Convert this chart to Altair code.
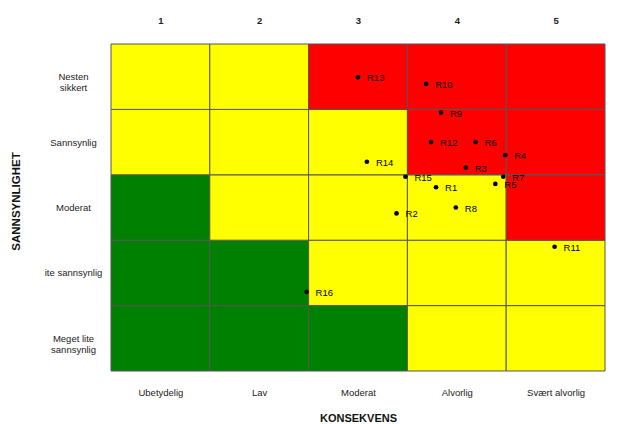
import json
import altair as alt
import pandas as pd

FONT = "Liberation Sans"

consequence_numbers = ["1", "2", "3", "4", "5"]
consequence_labels = ["Ubetydelig", "Lav", "Moderat", "Alvorlig", "Svært alvorlig"]
likelihood_labels = ["Meget lite\nsannsynlig", "ite sannsynlig", "Moderat", "Sannsynlig", "Nesten\nsikkert"]

# risk zones per likelihood row (1 = bottom ... 5 = top), consequence 1..5
zone_row1 = ["G", "G", "G", "Y", "Y"]
zone_row2 = ["G", "G", "Y", "Y", "Y"]
zone_row3 = ["G", "Y", "Y", "Y", "R"]
zone_row4 = ["Y", "Y", "Y", "R", "R"]
zone_row5 = ["Y", "Y", "R", "R", "R"]
zone_rows = [zone_row1, zone_row2, zone_row3, zone_row4, zone_row5]

risk_ids = ["R1", "R2", "R3", "R4", "R5", "R6", "R7", "R8",
            "R9", "R10", "R11", "R12", "R13", "R14", "R15", "R16"]
risk_consequence = [3.79, 3.39, 4.09, 4.49, 4.39, 4.19, 4.47, 3.99,
                    3.84, 3.69, 4.99, 3.74, 3.00, 3.09, 3.48, 2.48]
risk_likelihood = [3.31, 2.91, 3.61, 3.80, 3.36, 4.00, 3.47, 3.00,
                   4.45, 4.89, 2.40, 4.00, 4.99, 3.70, 3.47, 1.71]

cells = []
for li, row in enumerate(zone_rows):
    for ci, z in enumerate(row):
        cells.append({"x0": ci + 0.5, "x1": ci + 1.5, "y0": li + 0.5, "y1": li + 1.5, "zone": z})
cells = pd.DataFrame(cells)
risks = pd.DataFrame({"id": risk_ids, "c": risk_consequence, "l": risk_likelihood})

xscale = alt.Scale(domain=[0.5, 5.5], nice=False, zero=False)
yscale = alt.Scale(domain=[0.5, 5.5], nice=False, zero=False)

xlab_js = json.dumps(consequence_labels, ensure_ascii=False)
xnum_js = json.dumps(consequence_numbers)
ylab_js = json.dumps([l.split("\n") for l in likelihood_labels], ensure_ascii=False)

rects = alt.Chart(cells).mark_rect(stroke="#555555", strokeWidth=1).encode(
    x=alt.X("x0:Q", scale=xscale, axis=alt.Axis(
        orient="bottom", values=[1, 2, 3, 4, 5], labelExpr=f"{xlab_js}[datum.value-1]",
        ticks=False, domain=False, grid=False, labelPadding=21, labelBaseline="middle",
        labelFont=FONT, labelFontSize=9.5, labelColor="#222222",
        title="KONSEKVENS", titleFont=FONT, titleFontSize=11, titleFontWeight="bold",
        titleColor="#111111", titleY=47, titleBaseline="middle")),
    x2="x1",
    y=alt.Y("y0:Q", scale=yscale, axis=alt.Axis(
        orient="left", values=[1, 2, 3, 4, 5], labelExpr=f"{ylab_js}[datum.value-1]",
        ticks=False, domain=False, grid=False, labelPadding=38, labelAlign="center",
        labelBaseline="middle", labelLineHeight=11,
        labelFont=FONT, labelFontSize=9.5, labelColor="#222222",
        title="SANNSYNLIGHET", titleFont=FONT, titleFontSize=11.5, titleFontWeight="bold",
        titleColor="#111111", titleAngle=270, titleX=-95, titleY=157,
        titleBaseline="middle", titleAlign="center")),
    y2="y1",
    color=alt.Color("zone:N", scale=alt.Scale(domain=["G", "Y", "R"],
                                              range=["#008000", "#FFFF00", "#FF0000"]), legend=None),
)

points = alt.Chart(risks).mark_point(filled=True, size=22, color="black", opacity=1).encode(
    x=alt.X("c:Q", scale=xscale, axis=alt.Axis(
        orient="top", values=[1, 2, 3, 4, 5], labelExpr=f"{xnum_js}[datum.value-1]",
        ticks=False, domain=False, grid=False, labelPadding=24, labelBaseline="middle",
        labelFont=FONT, labelFontSize=9.5, labelFontWeight="bold", labelColor="#222222",
        title=None)),
    y=alt.Y("l:Q", scale=yscale, axis=None),
)

labels = alt.Chart(risks).mark_text(align="left", baseline="middle", dx=9, dy=1, fontSize=9.5,
                                    font=FONT, color="black").encode(
    x=alt.X("c:Q", scale=xscale, axis=None),
    y=alt.Y("l:Q", scale=yscale, axis=None),
    text="id:N",
)

chart = alt.layer(rects, points, labels).resolve_axis(x="independent", y="independent").properties(
    width=494, height=327,
    autosize=alt.AutoSizeParams(type="none"),
    padding={"left": 103, "top": 36, "right": 12, "bottom": 51},
).configure_view(stroke=None)

chart.save("out.html", embed_options={"renderer": "svg", "actions": False})
